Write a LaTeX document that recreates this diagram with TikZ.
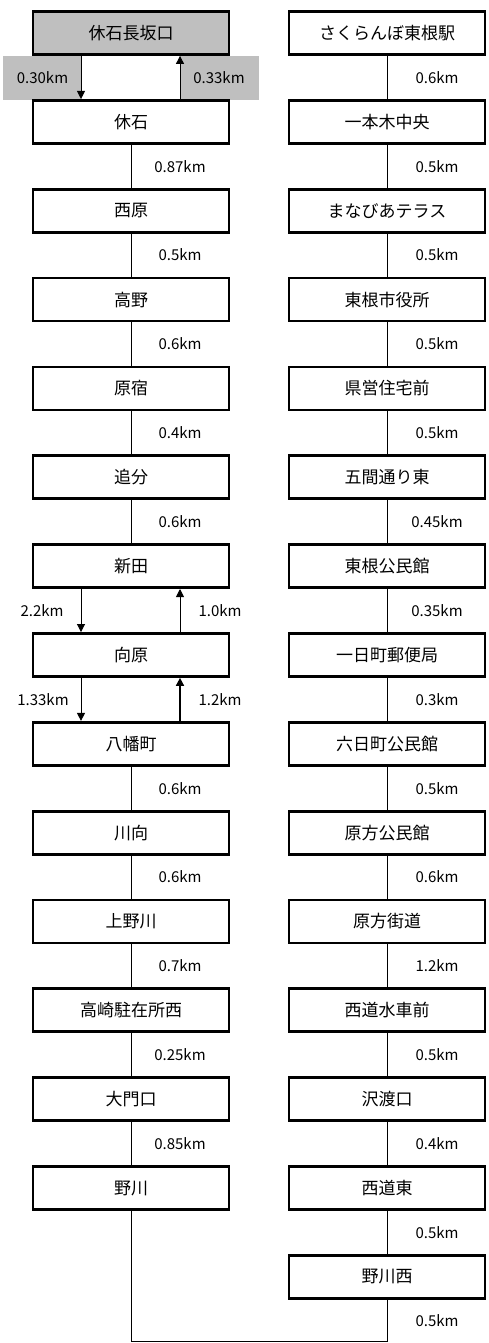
\documentclass[tikz,border=0pt]{standalone}
\usepackage{fontspec}
\setmainfont{Noto Sans CJK JP}
\usetikzlibrary{arrows.meta}
\begin{document}
\begin{tikzpicture}[x=1pt,y=-1pt,
  stn/.style={draw, line width=2.8pt, minimum width=196pt, minimum height=43pt, inner sep=0pt, font=\fontsize{17}{19}\selectfont},
  lab/.style={font=\fontsize{15}{17}\selectfont, inner sep=0pt},
  graylab/.style={lab, fill=black!25, minimum width=79pt, minimum height=44pt},
  conn/.style={line width=0.9pt},
  arr/.style={conn, -{Triangle[width=8pt,length=8pt]}},
  thickarr/.style={line width=1.6pt, -{Triangle[width=8pt,length=8pt]}}
]
\useasboundingbox (0,0) rectangle (488,1343);
\def\dy{88.85}
% gray label boxes
\node[graylab] (g1) at (42.5,78) {0.30km};
\node[graylab] (g2) at (219,78) {0.33km};
% left column
\node[stn, fill=black!25] (l0) at (131,33) {休石長坂口};
\node[stn] (l1) at (131,{33+1*\dy}) {休石};
\node[stn] (l2) at (131,{33+2*\dy}) {西原};
\node[stn] (l3) at (131,{33+3*\dy}) {高野};
\node[stn] (l4) at (131,{33+4*\dy}) {原宿};
\node[stn] (l5) at (131,{33+5*\dy}) {追分};
\node[stn] (l6) at (131,{33+6*\dy}) {新田};
\node[stn] (l7) at (131,{33+7*\dy}) {向原};
\node[stn] (l8) at (131,{33+8*\dy}) {八幡町};
\node[stn] (l9) at (131,{33+9*\dy}) {川向};
\node[stn] (l10) at (131,{33+10*\dy}) {上野川};
\node[stn] (l11) at (131,{33+11*\dy}) {高崎駐在所西};
\node[stn] (l12) at (131,{33+12*\dy}) {大門口};
\node[stn] (l13) at (131,{33+13*\dy}) {野川};
% right column
\node[stn] (r0) at (387,33) {さくらんぼ東根駅};
\node[stn] (r1) at (387,{33+1*\dy}) {一本木中央};
\node[stn] (r2) at (387,{33+2*\dy}) {まなびあテラス};
\node[stn] (r3) at (387,{33+3*\dy}) {東根市役所};
\node[stn] (r4) at (387,{33+4*\dy}) {県営住宅前};
\node[stn] (r5) at (387,{33+5*\dy}) {五間通り東};
\node[stn] (r6) at (387,{33+6*\dy}) {東根公民館};
\node[stn] (r7) at (387,{33+7*\dy}) {一日町郵便局};
\node[stn] (r8) at (387,{33+8*\dy}) {六日町公民館};
\node[stn] (r9) at (387,{33+9*\dy}) {原方公民館};
\node[stn] (r10) at (387,{33+10*\dy}) {原方街道};
\node[stn] (r11) at (387,{33+11*\dy}) {西道水車前};
\node[stn] (r12) at (387,{33+12*\dy}) {沢渡口};
\node[stn] (r13) at (387,{33+13*\dy}) {西道東};
\node[stn] (r14) at (387,{33+14*\dy}) {野川西};
% top branch arrows
\draw[arr] ([xshift=-50pt]l0.south) -- ([xshift=-50pt]l1.north);
\draw[arr] ([xshift=49pt]l1.north) -- ([xshift=49pt]l0.south);
% left connectors
\draw[conn] (l1) -- node[lab, xshift=49pt] {0.87km} (l2);
\draw[conn] (l2) -- node[lab, xshift=49pt] {0.5km} (l3);
\draw[conn] (l3) -- node[lab, xshift=49pt] {0.6km} (l4);
\draw[conn] (l4) -- node[lab, xshift=49pt] {0.4km} (l5);
\draw[conn] (l5) -- node[lab, xshift=49pt] {0.6km} (l6);
\draw[arr] ([xshift=-50pt]l6.south) -- node[lab, xshift=-39pt] {2.2km} ([xshift=-50pt]l7.north);
\draw[arr] ([xshift=49pt]l7.north) -- node[lab, xshift=40pt] {1.0km} ([xshift=49pt]l6.south);
\draw[arr] ([xshift=-50pt]l7.south) -- node[lab, xshift=-38pt] {1.33km} ([xshift=-50pt]l8.north);
\draw[thickarr] ([xshift=49pt]l8.north) -- node[lab, xshift=40pt] {1.2km} ([xshift=49pt]l7.south);
\draw[conn] (l8) -- node[lab, xshift=49pt] {0.6km} (l9);
\draw[conn] (l9) -- node[lab, xshift=49pt] {0.6km} (l10);
\draw[conn] (l10) -- node[lab, xshift=49pt] {0.7km} (l11);
\draw[conn] (l11) -- node[lab, xshift=49pt] {0.25km} (l12);
\draw[conn] (l12) -- node[lab, xshift=49pt] {0.85km} (l13);
% right connectors
\draw[conn] (r0) -- node[lab, xshift=50pt] {0.6km} (r1);
\draw[conn] (r1) -- node[lab, xshift=50pt] {0.5km} (r2);
\draw[conn] (r2) -- node[lab, xshift=50pt] {0.5km} (r3);
\draw[conn] (r3) -- node[lab, xshift=50pt] {0.5km} (r4);
\draw[conn] (r4) -- node[lab, xshift=50pt] {0.5km} (r5);
\draw[conn] (r5) -- node[lab, xshift=50pt] {0.45km} (r6);
\draw[conn] (r6) -- node[lab, xshift=50pt] {0.35km} (r7);
\draw[conn] (r7) -- node[lab, xshift=50pt] {0.3km} (r8);
\draw[conn] (r8) -- node[lab, xshift=50pt] {0.5km} (r9);
\draw[conn] (r9) -- node[lab, xshift=50pt] {0.6km} (r10);
\draw[conn] (r10) -- node[lab, xshift=50pt] {1.2km} (r11);
\draw[conn] (r11) -- node[lab, xshift=50pt] {0.5km} (r12);
\draw[conn] (r12) -- node[lab, xshift=50pt] {0.4km} (r13);
\draw[conn] (r13) -- node[lab, xshift=50pt] {0.5km} (r14);
% bottom loop
\coordinate (bl) at (131,1341);
\coordinate (br) at (387,1341);
\draw[conn] (l13.south) -- (bl) -- (br) -- node[lab, xshift=50pt] {0.5km} (r14.south);
\end{tikzpicture}
\end{document}
